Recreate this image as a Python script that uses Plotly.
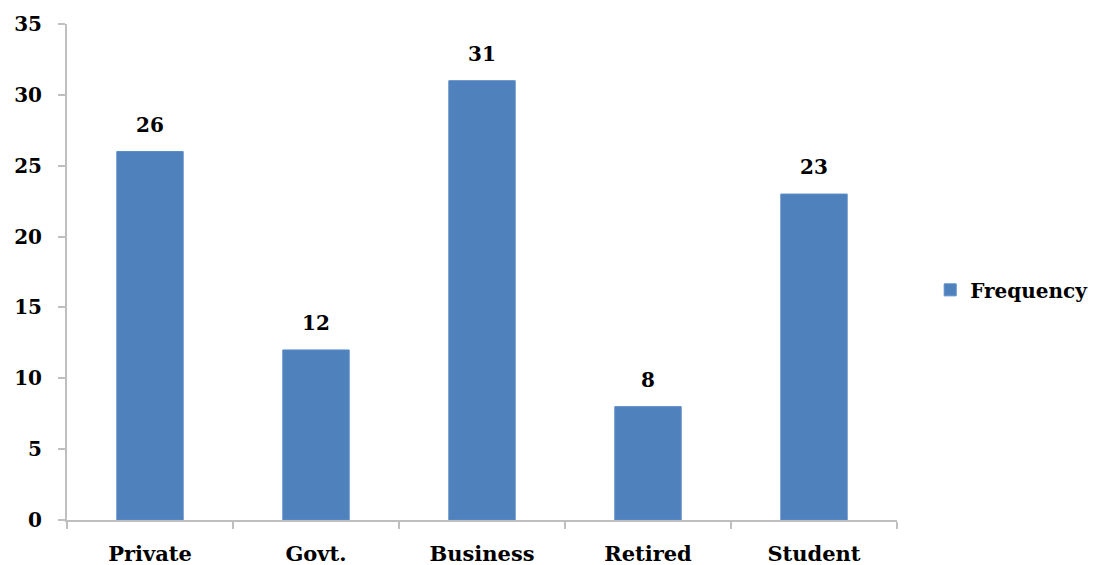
import plotly.graph_objects as go

# Occupation frequency counts
categories = ["Private", "Govt.", "Business", "Retired", "Student"]
frequency = [26, 12, 31, 8, 23]
y_ticks = [0, 5, 10, 15, 20, 25, 30, 35]

BAR_COLOR = "#4F81BD"
AXIS_COLOR = "#BFBFBF"
FONT = dict(family="DejaVu Serif", size=20, color="black")

fig = go.Figure()
fig.add_trace(go.Bar(
    x=categories,
    y=frequency,
    name="<b>Frequency</b>",
    marker=dict(color=BAR_COLOR, line=dict(color="#5B8CC8", width=1)),
    width=0.4,
    showlegend=True,
))

# value labels above each bar
for cat, val in zip(categories, frequency):
    fig.add_annotation(
        x=cat, y=val, text=f"<b>{val}</b>", showarrow=False,
        yanchor="bottom", yshift=13, font=FONT,
    )

fig.update_layout(
    width=1109, height=565,
    paper_bgcolor="white", plot_bgcolor="white",
    margin=dict(l=67, r=212, t=24, b=45, autoexpand=False),
    font=FONT,
    showlegend=True,
    legend=dict(
        x=1.04, y=0.464, xanchor="left", yanchor="middle",
        font=dict(family="DejaVu Serif", size=20, color="black"),
        itemwidth=30,
    ),
    bargap=0.6,
)

fig.update_xaxes(
    automargin=False,
    showline=True, linecolor=AXIS_COLOR, linewidth=2,
    ticks="outside", tickson="boundaries", ticklen=7, tickcolor=AXIS_COLOR, tickwidth=2,
    tickfont=dict(family="DejaVu Serif", size=21, color="black"),
    ticklabelstandoff=14,
    tickvals=categories,
    ticktext=[f"<b>{c}</b>" for c in categories],
    showgrid=False,
)
fig.update_yaxes(
    automargin=False,
    range=[0, 35],
    tickvals=y_ticks,
    ticktext=[f"<b>{v}</b>" for v in y_ticks],
    showline=True, linecolor=AXIS_COLOR, linewidth=2,
    ticks="outside", ticklen=7, tickcolor=AXIS_COLOR, tickwidth=2,
    tickfont=FONT,
    ticklabelstandoff=12,
    showgrid=False, zeroline=False,
)

fig.write_html("out.html")
